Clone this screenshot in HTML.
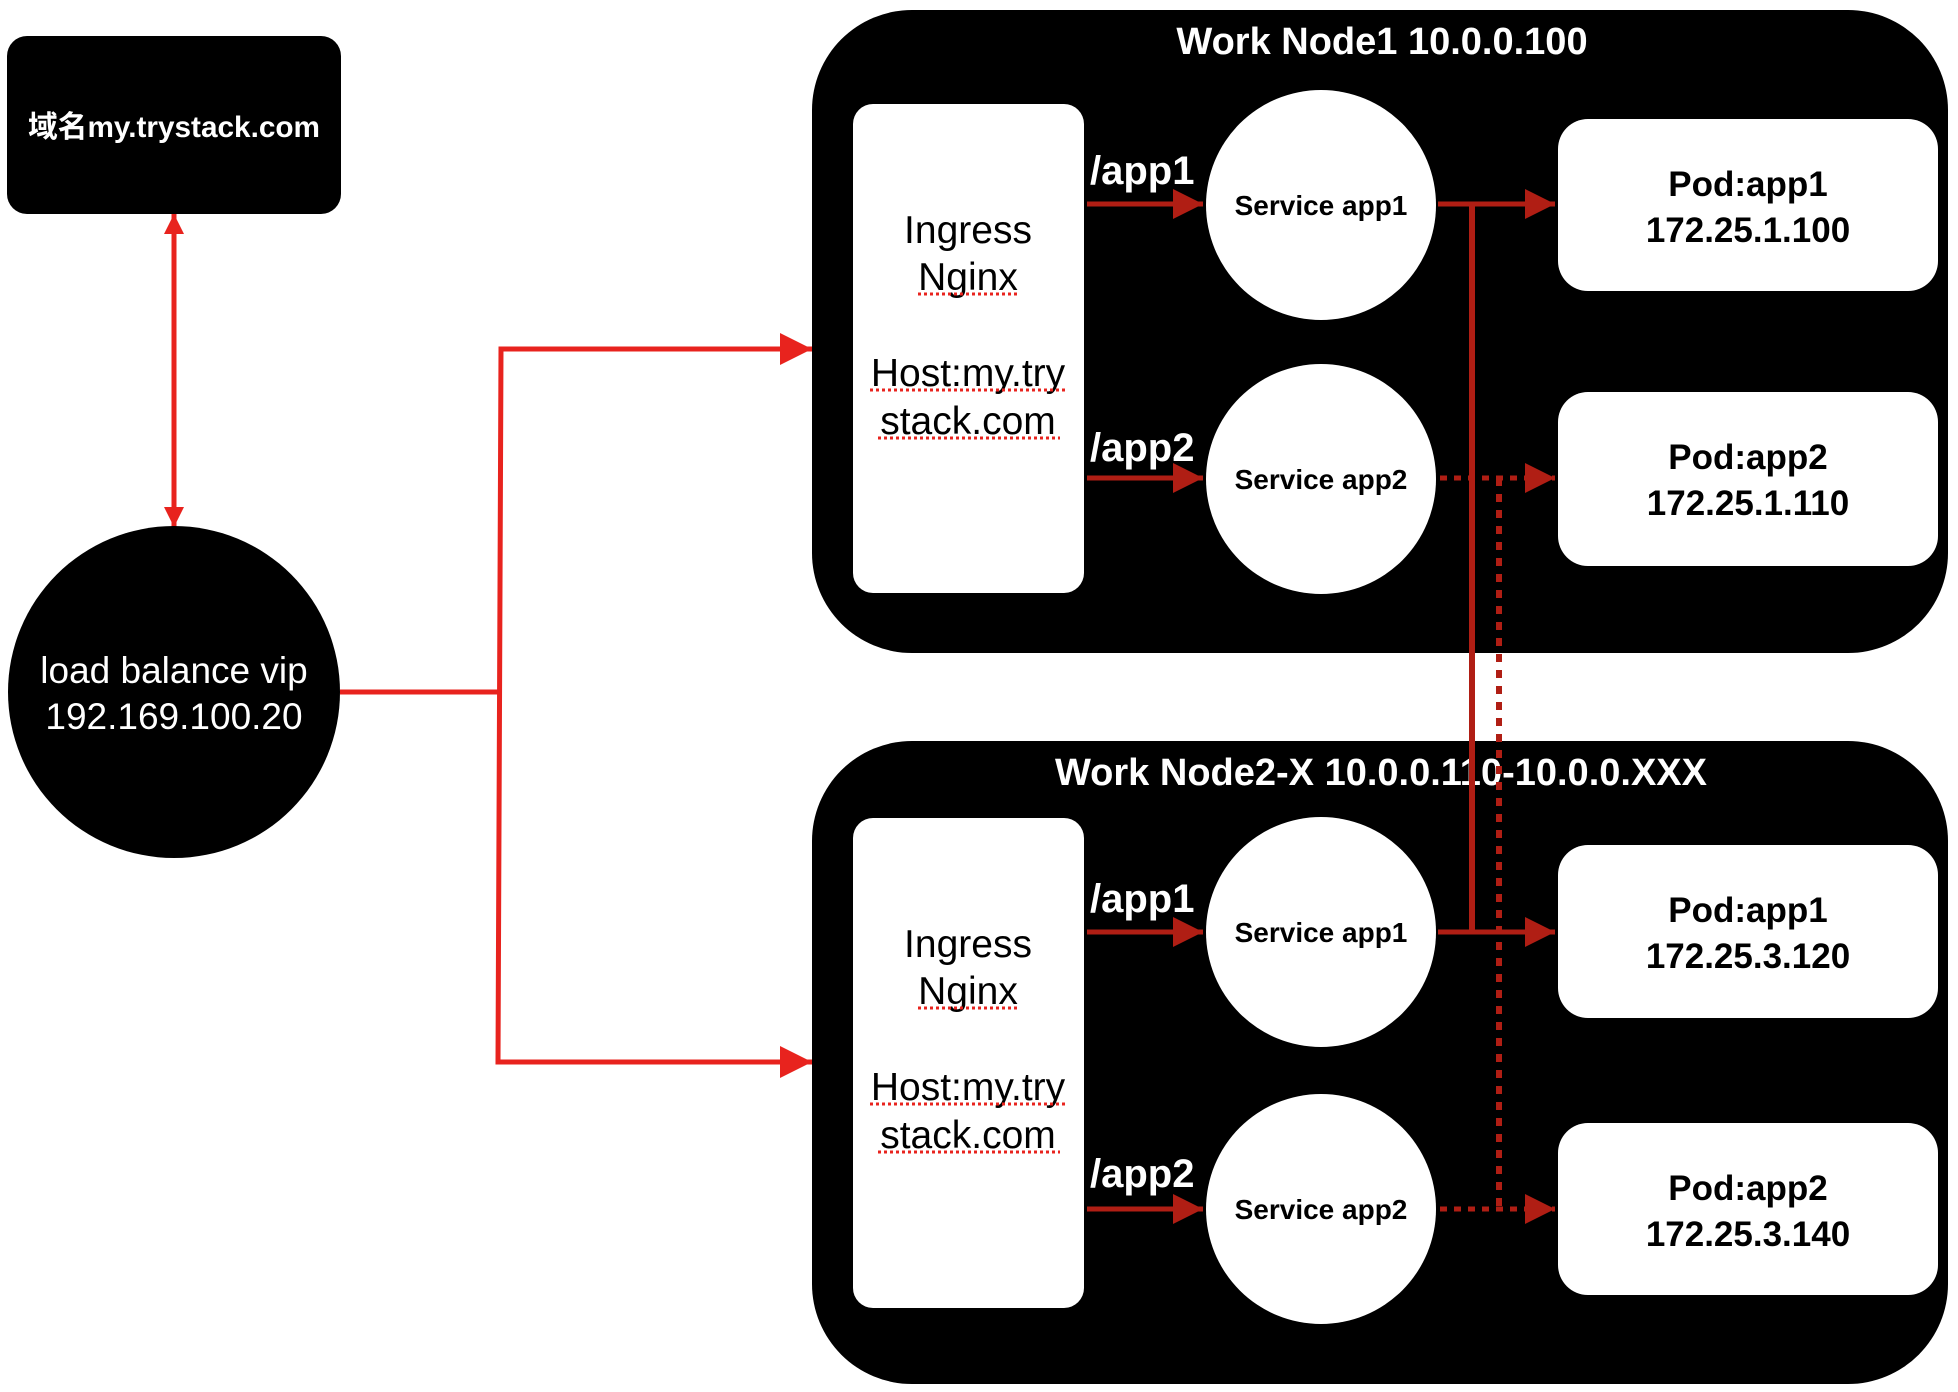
<!DOCTYPE html>
<html><head><meta charset="utf-8"><style>
html,body{margin:0;padding:0;background:#fff;}
svg{display:block;}
text{font-family:"Liberation Sans","Noto Sans CJK SC",sans-serif;}
</style></head><body>
<svg width="1958" height="1392" viewBox="0 0 1958 1392" xmlns="http://www.w3.org/2000/svg">
<defs>
<marker id="ar2" viewBox="0 0 10 10" refX="10" refY="5" markerWidth="4" markerHeight="4" markerUnits="strokeWidth" orient="auto-start-reverse"><path d="M0,0 L10,5 L0,10 z" fill="#e8231e"/></marker>
<marker id="dr" viewBox="0 0 10 10" refX="10" refY="5" markerWidth="6" markerHeight="8" markerUnits="strokeWidth" orient="auto"><path d="M0,0 L10,5 L0,10 z" fill="#b01e14"/></marker>
</defs>

<rect x="7" y="36" width="334" height="178" rx="20" fill="#000"/>
<text x="174" y="137" font-size="30" font-weight="bold" fill="#fff" text-anchor="middle" textLength="292" lengthAdjust="spacingAndGlyphs">域名my.trystack.com</text>

<line x1="174" y1="214" x2="174" y2="527" stroke="#e8231e" stroke-width="5" marker-start="url(#ar2)" marker-end="url(#ar2)"/>

<circle cx="174" cy="692" r="166" fill="#000"/>
<text x="174" y="683" font-size="37" fill="#fff" text-anchor="middle">load balance vip</text>
<text x="174" y="729" font-size="37" fill="#fff" text-anchor="middle">192.169.100.20</text>

<polyline points="340,692 499,692" fill="none" stroke="#e8231e" stroke-width="5"/>
<polyline points="812,349 501,349 498,1062 812,1062" fill="none" stroke="#e8231e" stroke-width="5"/>
<path d="M780,333 L812,349 L780,365 z" fill="#e8231e"/>
<path d="M780,1046 L812,1062 L780,1078 z" fill="#e8231e"/>

<rect x="812" y="10" width="1136" height="643" rx="100" fill="#000"/>
<text x="1382" y="54" font-size="38" font-weight="bold" fill="#fff" text-anchor="middle">Work Node1 10.0.0.100</text>
<rect x="853" y="104" width="231" height="489" rx="20" fill="#fff"/>
<g font-size="39" fill="#000" text-anchor="middle">
<text x="968" y="243">Ingress</text>
<text x="968" y="290">Nginx</text>
<text x="968" y="386">Host:my.try</text>
<text x="968" y="434">stack.com</text>
</g>
<g stroke="#e8231e" stroke-width="3" stroke-dasharray="3,3">
<line x1="918" y1="294" x2="1020" y2="294"/>
<line x1="870" y1="390" x2="1068" y2="390"/>
<line x1="878" y1="438" x2="1060" y2="438"/>
</g>
<text x="1090" y="184" font-size="40" font-weight="bold" fill="#fff">/app1</text>
<text x="1090" y="461" font-size="40" font-weight="bold" fill="#fff">/app2</text>
<circle cx="1321" cy="205" r="115" fill="#fff"/>
<circle cx="1321" cy="479" r="115" fill="#fff"/>
<g font-size="28" font-weight="bold" fill="#000" text-anchor="middle">
<text x="1321" y="215">Service app1</text>
<text x="1321" y="489">Service app2</text>
</g>
<rect x="1558" y="119" width="380" height="172" rx="30" fill="#fff"/>
<rect x="1558" y="392" width="380" height="174" rx="30" fill="#fff"/>
<g font-size="35" font-weight="bold" fill="#000" text-anchor="middle">
<text x="1748" y="196">Pod:app1</text>
<text x="1748" y="242">172.25.1.100</text>
<text x="1748" y="469">Pod:app2</text>
<text x="1748" y="515">172.25.1.110</text>
</g>

<rect x="812" y="741" width="1136" height="643" rx="100" fill="#000"/>
<text x="1381" y="785" font-size="38" font-weight="bold" fill="#fff" text-anchor="middle">Work Node2-X 10.0.0.110-10.0.0.XXX</text>
<rect x="853" y="818" width="231" height="490" rx="20" fill="#fff"/>
<g font-size="39" fill="#000" text-anchor="middle">
<text x="968" y="957">Ingress</text>
<text x="968" y="1004">Nginx</text>
<text x="968" y="1100">Host:my.try</text>
<text x="968" y="1148">stack.com</text>
</g>
<g stroke="#e8231e" stroke-width="3" stroke-dasharray="3,3">
<line x1="918" y1="1008" x2="1020" y2="1008"/>
<line x1="870" y1="1104" x2="1068" y2="1104"/>
<line x1="878" y1="1152" x2="1060" y2="1152"/>
</g>
<text x="1090" y="912" font-size="40" font-weight="bold" fill="#fff">/app1</text>
<text x="1090" y="1187" font-size="40" font-weight="bold" fill="#fff">/app2</text>
<circle cx="1321" cy="932" r="115" fill="#fff"/>
<circle cx="1321" cy="1209" r="115" fill="#fff"/>
<g font-size="28" font-weight="bold" fill="#000" text-anchor="middle">
<text x="1321" y="942">Service app1</text>
<text x="1321" y="1219">Service app2</text>
</g>
<rect x="1558" y="845" width="380" height="173" rx="30" fill="#fff"/>
<rect x="1558" y="1123" width="380" height="172" rx="30" fill="#fff"/>
<g font-size="35" font-weight="bold" fill="#000" text-anchor="middle">
<text x="1748" y="922">Pod:app1</text>
<text x="1748" y="968">172.25.3.120</text>
<text x="1748" y="1200">Pod:app2</text>
<text x="1748" y="1246">172.25.3.140</text>
</g>

<g stroke="#b01e14" stroke-width="5" fill="none">
<line x1="1087" y1="204" x2="1203" y2="204" marker-end="url(#dr)"/>
<line x1="1087" y1="478" x2="1203" y2="478" marker-end="url(#dr)"/>
<line x1="1087" y1="932" x2="1203" y2="932" marker-end="url(#dr)"/>
<line x1="1087" y1="1209" x2="1203" y2="1209" marker-end="url(#dr)"/>
<line x1="1438" y1="204" x2="1555" y2="204" marker-end="url(#dr)"/>
<line x1="1438" y1="932" x2="1555" y2="932" marker-end="url(#dr)"/>
<line x1="1472" y1="202" x2="1472" y2="934" stroke-width="6"/>
<line x1="1440" y1="478" x2="1555" y2="478" stroke-dasharray="7,7" marker-end="url(#dr)"/>
<line x1="1440" y1="1209" x2="1555" y2="1209" stroke-dasharray="7,7" marker-end="url(#dr)"/>
<line x1="1499" y1="478" x2="1499" y2="1209" stroke-width="6" stroke-dasharray="8,8"/>
</g>
</svg>
</body></html>
